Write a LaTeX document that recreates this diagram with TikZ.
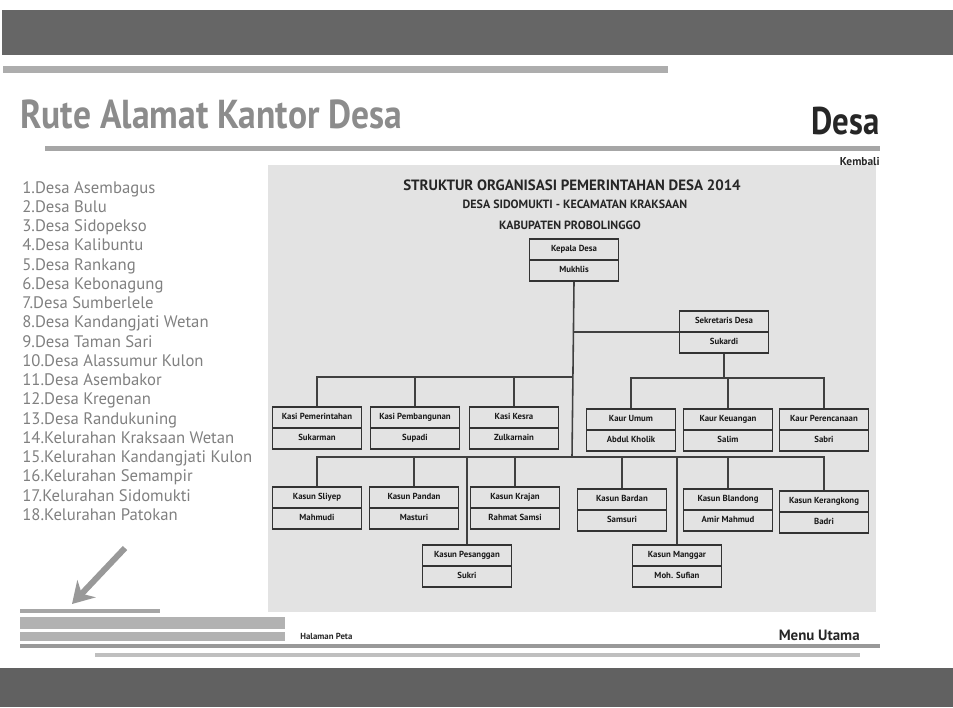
\documentclass[tikz,border=0pt]{standalone}
\usepackage{fontspec}
\setmainfont{PT Sans}
\usetikzlibrary{positioning,arrows.meta,shapes.multipart}

\begin{document}
\begin{tikzpicture}[
x=0.02cm, y=-0.02cm,
box/.style={draw=black!80, line width=0.9pt, rectangle split, rectangle split parts=2,
  minimum width=1.78cm, inner ysep=2.6pt, inner xsep=1pt,
  font=\fontsize{5}{6}\selectfont\bfseries, text=black!90},
line/.style={draw=black!75, line width=0.9pt},
daftar/.style={align=left, inner sep=0pt, text=black!50, font=\fontsize{9.5}{10.95}\selectfont},
>=stealth
]
\useasboundingbox (0,0) rectangle (953,707);

%-------------------------
% Latar
%-------------------------

\fill[black!60] (2,10) rectangle (953,55);
\fill[black!32] (3,66) rectangle (668,73);
\fill[black!35] (45,146) rectangle (880,151);
\fill[black!11] (268,165) rectangle (876,612);

\fill[black!35] (20,609) rectangle (160,613);
\fill[black!30] (20,617) rectangle (285,629);
\fill[black!30] (20,632) rectangle (285,641);
\fill[black!40] (20,644) rectangle (880,648);
\fill[black!25] (95,653) rectangle (860,657);
\fill[black!62] (0,668) rectangle (953,707);

%-------------------------
% Judul
%-------------------------

\node (rute) [anchor=base west, inner sep=0pt, text=black!45, font=\fontsize{23}{26}\selectfont\bfseries] at (20,128) {\scalebox{0.88}[1]{Rute Alamat Kantor Desa}};
\node (desa) [anchor=base east, inner sep=0pt, text=black!85, font=\fontsize{22}{24}\selectfont\bfseries] at (880,134) {\scalebox{0.85}[1]{Desa}};
\node (kembali) [anchor=base east, inner sep=0pt, text=black!85, font=\fontsize{6.5}{8}\selectfont\bfseries] at (880,165) {Kembali};

\node (daftar) [daftar, anchor=north west] at (22,181) {1.Desa Asembagus\\2.Desa Bulu\\3.Desa Sidopekso\\4.Desa Kalibuntu\\5.Desa Rankang\\6.Desa Kebonagung\\7.Desa Sumberlele\\8.Desa Kandangjati Wetan\\9.Desa Taman Sari\\10.Desa Alassumur Kulon\\11.Desa Asembakor\\12.Desa Kregenan\\13.Desa Randukuning\\14.Kelurahan Kraksaan Wetan\\15.Kelurahan Kandangjati Kulon\\16.Kelurahan Semampir\\17.Kelurahan Sidomukti\\18.Kelurahan Patokan};

\node (judul1) [anchor=base, inner sep=0pt, text=black!85, font=\fontsize{8.5}{9}\selectfont\bfseries] at (572,190) {STRUKTUR ORGANISASI PEMERINTAHAN DESA 2014};
\node (judul2) [anchor=base, inner sep=0pt, text=black!85, font=\fontsize{6.8}{8}\selectfont\bfseries] at (575,208) {DESA SIDOMUKTI - KECAMATAN KRAKSAAN};
\node (judul3) [anchor=base, inner sep=0pt, text=black!85, font=\fontsize{6.8}{8}\selectfont\bfseries] at (570,229) {KABUPATEN PROBOLINGGO};

%-------------------------
% Kotak
%-------------------------

\node[box] (kades) at (574,260) {\strut Kepala Desa \nodepart{two} \strut Mukhlis};
\node[box] (sekdes) at (724,332) {\strut Sekretaris Desa \nodepart{two} \strut Sukardi};

\node[box] (kasi1) at (317,428) {\strut Kasi Pemerintahan \nodepart{two} \strut Sukarman};
\node[box] (kasi2) at (415,428) {\strut Kasi Pembangunan \nodepart{two} \strut Supadi};
\node[box] (kasi3) at (514,428) {\strut Kasi Kesra \nodepart{two} \strut Zulkarnain};

\node[box] (kaur1) at (631,430) {\strut Kaur Umum \nodepart{two} \strut Abdul Kholik};
\node[box] (kaur2) at (728,430) {\strut Kaur Keuangan \nodepart{two} \strut Salim};
\node[box] (kaur3) at (824,430) {\strut Kaur Perencanaan \nodepart{two} \strut Sabri};

\node[box] (kasun1) at (317,508) {\strut Kasun Sliyep \nodepart{two} \strut Mahmudi};
\node[box] (kasun2) at (414,508) {\strut Kasun Pandan \nodepart{two} \strut Masturi};
\node[box] (kasun3) at (515,508) {\strut Kasun Krajan \nodepart{two} \strut Rahmat Samsi};
\node[box] (kasun4) at (622,510) {\strut Kasun Bardan \nodepart{two} \strut Samsuri};
\node[box] (kasun5) at (728,510) {\strut Kasun Blandong \nodepart{two} \strut Amir Mahmud};
\node[box] (kasun6) at (824,512) {\strut Kasun Kerangkong \nodepart{two} \strut Badri};

\node[box] (kasun7) at (467,566) {\strut Kasun Pesanggan \nodepart{two} \strut Sukri};
\node[box] (kasun8) at (677,566) {\strut Kasun Manggar \nodepart{two} \strut Moh. Sufian};

\node (halaman) [anchor=base west, inner sep=0pt, text=black!85, font=\fontsize{5}{6}\selectfont\bfseries] at (300,639) {Halaman Peta};
\node (menu) [anchor=base east, inner sep=0pt, text=black!85, font=\fontsize{8.5}{10}\selectfont\bfseries] at (860,640) {Menu Utama};

%-------------------------
% Garis
%-------------------------

\coordinate (kasibus) at (572,377);
\coordinate (kaurbus) at (724,378);
\coordinate (kasunbus) at (572,457);

\draw[line] (kades.south) -- (kasunbus);
\draw[line] (sekdes.west) -- (sekdes.west -| kades.south);

\draw[line] (kasi1.north) |- (kasibus);
\draw[line] (kasi2.north) -- (kasi2.north |- kasibus);
\draw[line] (kasi3.north) -- (kasi3.north |- kasibus);

\draw[line] (sekdes.south) -- (kaurbus);
\draw[line] (kaur1.north) |- (kaur3.north |- kaurbus) -- (kaur3.north);
\draw[line] (kaur2.north) -- (kaur2.north |- kaurbus);

\draw[line] (kasun1.north) |- (kasun6.north |- kasunbus) -- (kasun6.north);
\draw[line] (kasun2.north) -- (kasun2.north |- kasunbus);
\draw[line] (kasun3.north) -- (kasun3.north |- kasunbus);
\draw[line] (kasun4.north) -- (kasun4.north |- kasunbus);
\draw[line] (kasun5.north) -- (kasun5.north |- kasunbus);
\draw[line] (kasun7.north) -- (kasun7.north |- kasunbus);
\draw[line] (kasun8.north) -- (kasun8.north |- kasunbus);

\coordinate (panahA) at (125,548);
\coordinate (panahB) at (72,604);
\draw[-{Stealth[length=0.42cm, width=0.5cm]}, line width=0.12cm, black!40] (panahA) -- (panahB);

\end{tikzpicture}
\end{document}
